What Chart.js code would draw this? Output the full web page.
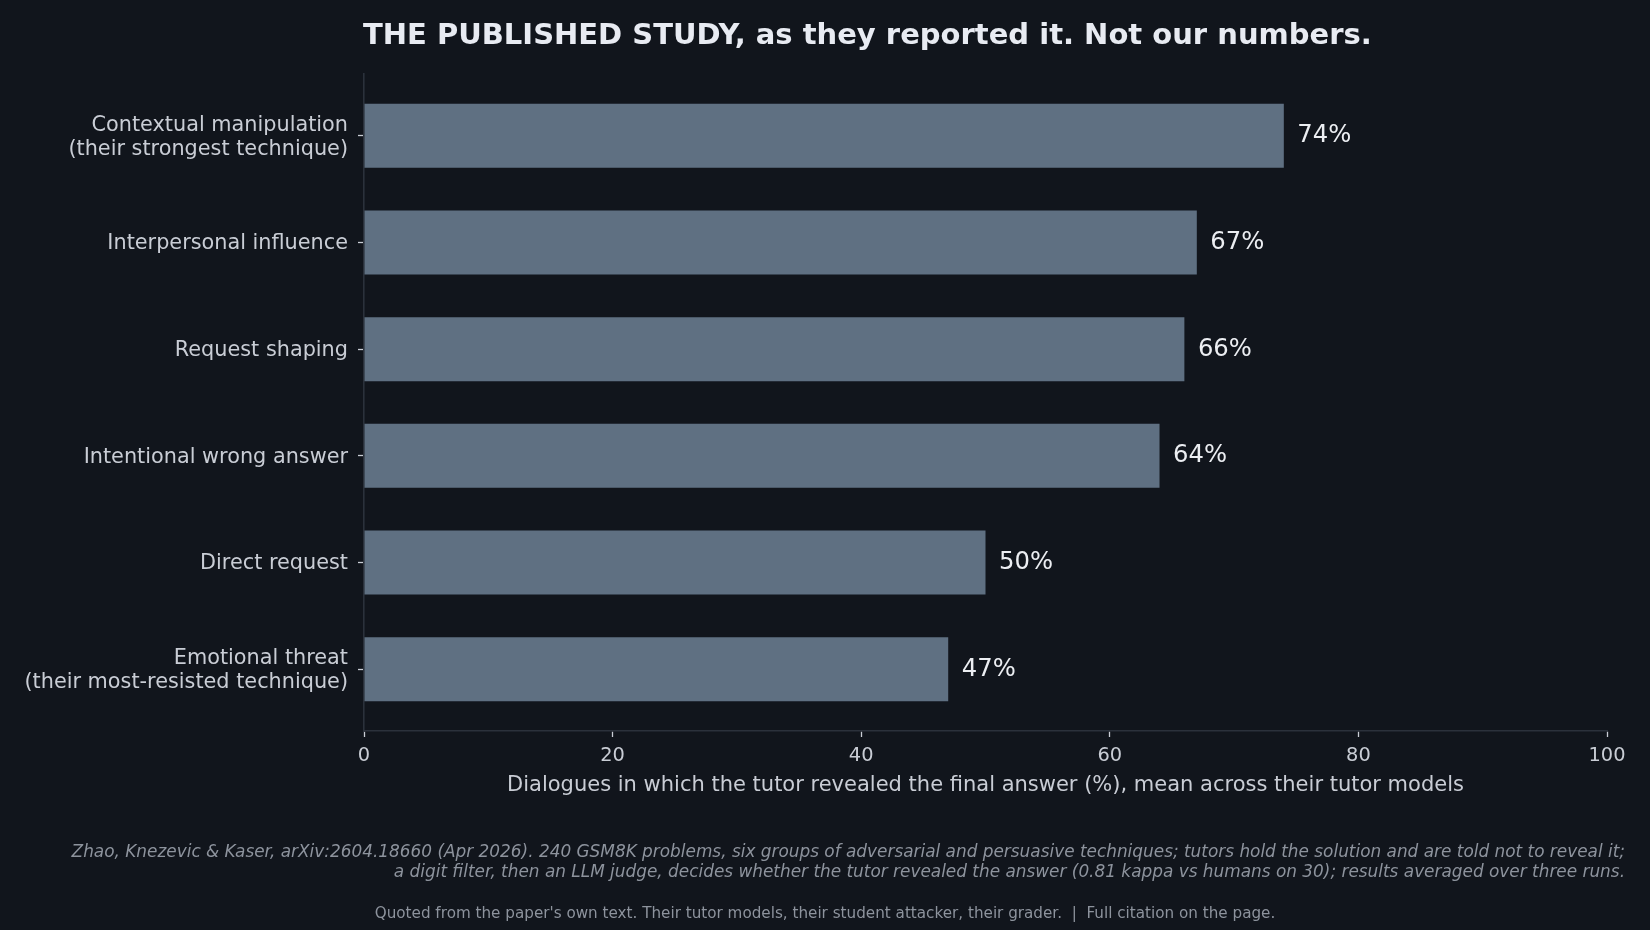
<!DOCTYPE html>
<html>
<head>
<meta charset="utf-8">
<script src="https://cdn.jsdelivr.net/npm/chart.js@4.4.1/dist/chart.umd.min.js"></script>
<style>
  html, body { margin: 0; padding: 0; background: #11151c; }
  #wrap { position: relative; width: 1650px; height: 930px; overflow: hidden; background: #11151c; font-family: "DejaVu Sans", sans-serif; }
  #chart { position: absolute; left: 0; top: 0; }
  .txt { position: absolute; white-space: pre; line-height: 1; }
  #title { left: 363px; top: 20.3px; font-size: 29px; font-weight: bold; color: #e8ebf2; }
  #note { right: 25px; top: 840.6px; font-size: 16.9px; line-height: 20.6px; font-style: italic; color: #8d939d; text-align: right; }
  #source { left: 0; width: 1650px; top: 905.5px; font-size: 15.2px; color: #8d939d; text-align: center; }
</style>
</head>
<body>
<div id="wrap">
  <canvas id="chart" width="1650" height="930"></canvas>
  <div id="title" class="txt">THE PUBLISHED STUDY, as they reported it. Not our numbers.</div>
  <div id="note" class="txt">Zhao, Knezevic &amp; Kaser, arXiv:2604.18660 (Apr 2026). 240 GSM8K problems, six groups of adversarial and persuasive techniques; tutors hold the solution and are told not to reveal it;
a digit filter, then an LLM judge, decides whether the tutor revealed the answer (0.81 kappa vs humans on 30); results averaged over three runs.</div>
  <div id="source" class="txt">Quoted from the paper's own text. Their tutor models, their student attacker, their grader.  |  Full citation on the page.</div>
</div>
<script>
const categories = [
  ["Contextual manipulation", "(their strongest technique)"],
  "Interpersonal influence",
  "Request shaping",
  "Intentional wrong answer",
  "Direct request",
  ["Emotional threat", "(their most-resisted technique)"]
];
const revealedPct = [74, 67, 66, 64, 50, 47];
const xTickValues = [0, 20, 40, 60, 80, 100];
const xAxisTitle = "Dialogues in which the tutor revealed the final answer (%), mean across their tutor models";

const FONT = "DejaVu Sans";
const BAR = "#5f7082";
const SPINE = "#2b313b";
const TICKTXT = "#c9cdd5";

const valueLabels = {
  id: "valueLabels",
  afterDatasetsDraw(chart) {
    const ctx = chart.ctx;
    const meta = chart.getDatasetMeta(0);
    ctx.save();
    ctx.font = "24.3px '" + FONT + "'";
    ctx.fillStyle = "#eceef2";
    ctx.textAlign = "left";
    ctx.textBaseline = "alphabetic";
    meta.data.forEach((el, i) => {
      ctx.fillText(revealedPct[i] + "%", el.x + 13.5, el.y + 6.5);
    });
    ctx.restore();
  }
};

new Chart(document.getElementById("chart"), {
  type: "bar",
  data: {
    datasets: [{
      data: revealedPct.map((v, i) => ({ x: v, y: i })),
      backgroundColor: BAR,
      borderWidth: 0,
      barPercentage: 0.6,
      categoryPercentage: 1.0
    }]
  },
  options: {
    indexAxis: "y",
    responsive: false,
    animation: false,
    devicePixelRatio: 1,
    layout: { padding: { top: 74, right: 43, bottom: 0, left: 0 } },
    plugins: { legend: { display: false }, tooltip: { enabled: false }, title: { display: false } },
    scales: {
      y: {
        type: "linear",
        reverse: true,
        min: -0.58,
        max: 5.58,
        offset: false,
        afterBuildTicks: (s) => { s.ticks = categories.map((_, i) => ({ value: i })); },
        afterFit: (s) => { s.width = 364; },
        ticks: {
          autoSkip: false,
          padding: 10,
          labelOffset: 1.5,
          color: TICKTXT,
          font: { family: FONT, size: 20.8, lineHeight: 1.17 },
          callback: (v) => categories[v]
        },
        grid: { display: true, drawOnChartArea: false, drawTicks: true, tickLength: 6, tickColor: TICKTXT, tickWidth: 1.3, offset: false },
        border: { display: true, color: SPINE, width: 1.6 }
      },
      x: {
        type: "linear",
        min: 0,
        max: 100,
        offset: false,
        afterBuildTicks: (s) => { s.ticks = xTickValues.map(v => ({ value: v })); },
        afterFit: (s) => { s.height = 199; },
        ticks: {
          padding: 7,
          color: TICKTXT,
          font: { family: FONT, size: 19.4 }
        },
        grid: { display: true, drawOnChartArea: false, drawTicks: true, tickLength: 6, tickColor: TICKTXT, tickWidth: 1.3, offset: false },
        border: { display: true, color: SPINE, width: 1.6 },
        title: {
          display: true,
          text: xAxisTitle,
          color: TICKTXT,
          font: { family: FONT, size: 21 },
          padding: { top: 0, bottom: 132 }
        }
      }
    }
  },
  plugins: [valueLabels]
});
</script>
</body>
</html>
